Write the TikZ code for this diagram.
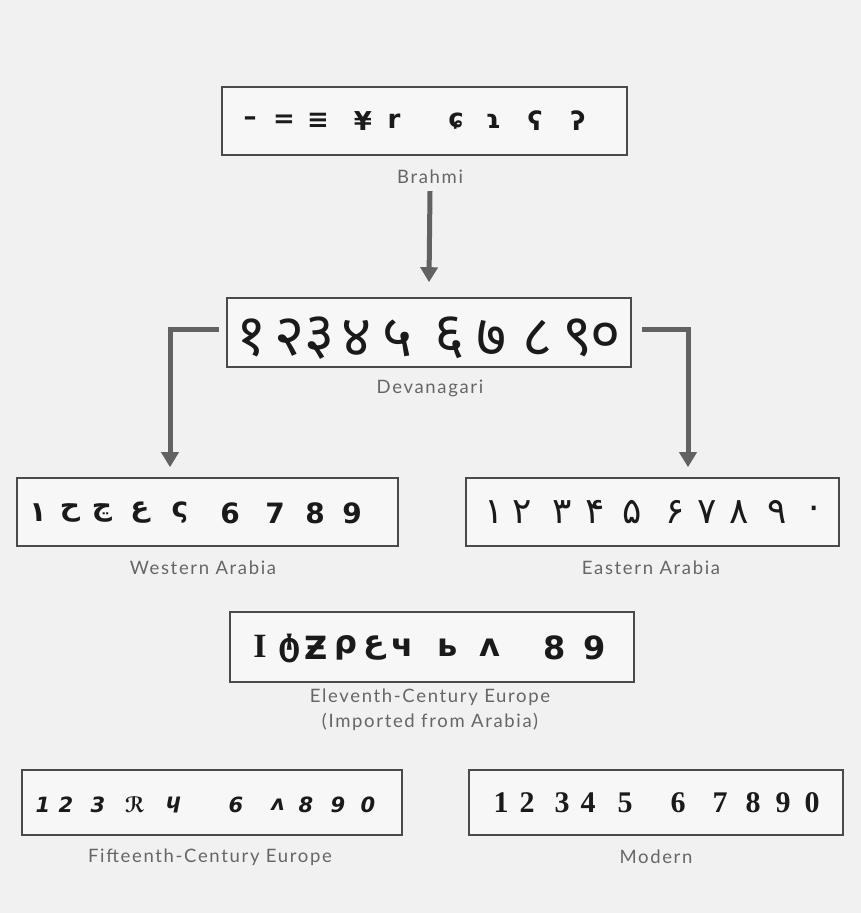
\documentclass[tikz,border=0pt]{standalone}
\usepackage{fontspec}
\usetikzlibrary{arrows.meta}
\newfontfamily\labfont[LetterSpace=9]{Lato}
\newfontfamily\devfont[Script=Devanagari]{Noto Sans}
\newfontfamily\arfont[Script=Arabic]{DejaVu Sans}
\newfontfamily\gfont{DejaVu Sans}
\newfontfamily\mfont{Liberation Serif}
\definecolor{bg}{HTML}{F1F1F1}
\definecolor{boxc}{HTML}{4A4A4A}
\definecolor{arrc}{HTML}{626262}
\definecolor{labc}{HTML}{666666}
\definecolor{ink}{HTML}{1A1A1A}
\begin{document}
\begin{tikzpicture}[x=1pt,y=-1pt,
  box/.style={draw=boxc,line width=1.6pt,inner sep=0pt,fill=bg!60!white},
  lab/.style={text=labc,font=\labfont\fontsize{18.5}{25}\selectfont,align=center,inner sep=0pt},
  glyph/.style={text=ink,inner sep=0pt,anchor=center},
  arr/.style={draw=arrc,line width=5pt,-{Triangle[width=17pt,length=15pt]}}]
\useasboundingbox (0,0) rectangle (861,913);
\fill[bg] (0,0) rectangle (861,913);

% boxes
\node[box,minimum width=405pt,minimum height=68pt] (brahmi) at (424.5,121) {};
\node[box,minimum width=404pt,minimum height=69pt] (deva) at (429,332.5) {};
\node[box,minimum width=381pt,minimum height=68pt] (west) at (207.5,512) {};
\node[box,minimum width=373pt,minimum height=68pt] (east) at (652.5,512) {};
\node[box,minimum width=404pt,minimum height=70pt] (eleven) at (432,647) {};
\node[box,minimum width=380pt,minimum height=65pt] (fifteen) at (212,802.5) {};
\node[box,minimum width=374pt,minimum height=65pt] (modern) at (656,802.5) {};

% labels
\node[lab] (blab) at (430,177) {Brahmi};
\node[lab] (dlab) at (430,388) {Devanagari};
\node[lab] (wlab) at (203,568) {Western Arabia};
\node[lab] (elab) at (651,568) {Eastern Arabia};
\node[lab] (xlab) at (430,710) {Eleventh-Century Europe\\(Imported from Arabia)};
\node[lab] (flab) at (210,857) {Fifteenth-Century Europe};
\node[lab] (mlab) at (656,857) {Modern};

% glyphs: Brahmi
\foreach \x/\g [count=\i] in {250/–,284/=,318/≡,363/¥,394/r,456/ɕ,493/ɿ,535/ʕ,578/ʔ}
  \node[glyph,font=\gfont\bfseries\fontsize{26}{26}\selectfont] (br-\i) at (\x,121) {\g};

% Devanagari
\foreach \x/\g [count=\i] in {252/१,290/२,320/३,357/४,398/५,450/६,492/७,538/८,578/९,606/०}
  \node[glyph,font=\devfont\bfseries\fontsize{58}{58}\selectfont] (dv-\i) at (\x,338) {\g};

% Western Arabia
\foreach \x/\g [count=\i] in {38/۱,70/ح,102/ڃ,140/ع,180/ς,230/6,275/7,315/8,352/9}
  \node[glyph,font=\arfont\bfseries\fontsize{28}{28}\selectfont] (wa-\i) at (\x,513) {\g};

% Eastern Arabia
\foreach \x/\g [count=\i] in {494/۱,522/۲,562/۳,595/۴,632/۵,675/۶,707/۷,739/۸,777/۹,814/۰}
  \node[glyph,font=\arfont\fontsize{36}{36}\selectfont] (ea-\i) at (\x,512) {\g};

% Eleventh century
\node[glyph,font=\mfont\bfseries\fontsize{34}{34}\selectfont] (xi-1) at (260,646) {I};
\foreach \x/\g [count=\i from 2] in {290/ტ,316/Ƶ,346/ρ,374/ع,402/ч,448/ь,490/ʌ,555/8,595/9}
  \node[glyph,font=\arfont\bfseries\fontsize{32}{32}\selectfont] (xi-\i) at (\x,648) {\g};

% Fifteenth century
\foreach \x/\g [count=\i] in {43/1,66/2,98/3,135/ℛ,173/ɥ,236/6,278/ʌ,306/8,338/9,368/0}
  \node[glyph,font=\gfont\bfseries\itshape\fontsize{21}{21}\selectfont] (fc-\i) at (\x,805) {\g};

% Modern
\foreach \x/\g [count=\i] in {501/1,527/2,562/3,588/4,625/5,678/6,720/7,753/8,783/9,812/0}
  \node[glyph,font=\mfont\bfseries\fontsize{30}{30}\selectfont] (mo-\i) at (\x,803) {\g};

% connectors
\draw[arr] ([yshift=-7pt]blab.south) -- ([yshift=15pt]deva.north);
\draw[arr] ([shift={(-7pt,3.5pt)}]deva.west) -| ([shift={(-37.5pt,10pt)}]west.north);
\draw[arr] ([shift={(10pt,3.5pt)}]deva.east) -| ([shift={(35.5pt,10pt)}]east.north);
\end{tikzpicture}
\end{document}
